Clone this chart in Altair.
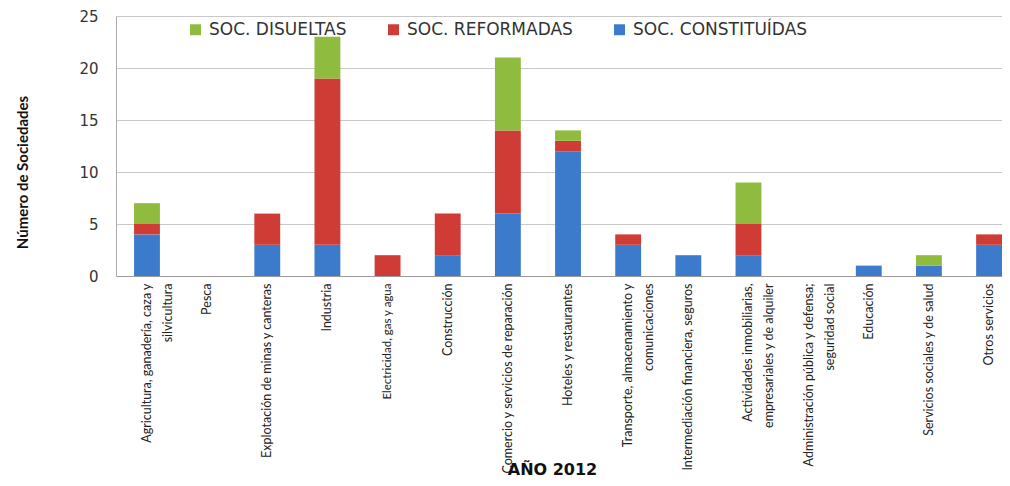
import altair as alt
import pandas as pd

categories = [
    "Agricultura, ganadería, caza y|silvicultura",
    "Pesca",
    "Explotación de minas y canteras",
    "Industria",
    "Electricidad, gas y agua",
    "Construcción",
    "Comercio y servicios de reparación",
    "Hoteles y restaurantes",
    "Transporte, almacenamiento y|comunicaciones",
    "Intermediación financiera, seguros",
    "Actividades inmobiliarias,|empresariales y de alquiler",
    "Administración pública y defensa;|seguridad social",
    "Educación",
    "Servicios sociales y de salud",
    "Otros servicios",
]

constituidas = [4, 0, 3, 3, 0, 2, 6, 12, 3, 2, 2, 0, 1, 1, 3]
reformadas = [1, 0, 3, 16, 2, 4, 8, 1, 1, 0, 3, 0, 0, 0, 1]
disueltas = [2, 0, 0, 4, 0, 0, 7, 1, 0, 0, 4, 0, 0, 1, 0]

series_names = ["SOC. DISUELTAS", "SOC. REFORMADAS", "SOC. CONSTITUÍDAS"]
series_colors = ["#8fbb3e", "#cf3b35", "#3c7bcb"]
y_ticks = [0, 5, 10, 15, 20, 25]

rows = []
for i, c in enumerate(categories):
    rows.append({"cat": c, "serie": series_names[2], "value": constituidas[i], "ord": 0})
    rows.append({"cat": c, "serie": series_names[1], "value": reformadas[i], "ord": 1})
    rows.append({"cat": c, "serie": series_names[0], "value": disueltas[i], "ord": 2})
df = pd.DataFrame(rows)

chart = alt.Chart(df).mark_bar().encode(
    x=alt.X(
        "cat:N",
        sort=categories,
        scale=alt.Scale(domain=categories, paddingInner=0.57, paddingOuter=0.15, align=1),
        axis=alt.Axis(
            title="AÑO 2012",
            labelAngle=270,
            labelExpr="split(datum.label, '|')",
            labelLineHeight=21,
            labelFont="Lato",
            labelFontSize={"condition": {"test": "indexof(datum.value, 'Electricidad') >= 0", "value": 11.5}, "value": 12.5},
            labelColor="#222222",
            labelPadding=7,
            labelLimit=0,
            ticks=False,
            domainColor="#9a9a9a",
            titleFont="DejaVu Sans",
            titleFontWeight="bold",
            titleFontSize=16,
            titleColor="#111111",
            titleX=436,
            titleY=201,
            titleBaseline="bottom",
        ),
    ),
    y=alt.Y(
        "value:Q",
        stack="zero",
        scale=alt.Scale(domain=[0, 25]),
        axis=alt.Axis(
            values=y_ticks,
            title="Número de Sociedades",
            labelFont="DejaVu Sans",
            labelFontSize=15,
            labelColor="#333333",
            labelPadding=18,
            ticks=False,
            domainColor="#aaaaaa",
            gridColor="#c8c8c8",
            titleFont="Lato",
            titleFontWeight="bold",
            titleFontSize=15,
            titleColor="#111111",
            titleX=-94,
            titleY=156,
            titleAngle=270,
            titleAlign="center",
            titleBaseline="middle",
        ),
    ),
    color=alt.Color(
        "serie:N",
        scale=alt.Scale(domain=series_names, range=series_colors),
        legend=alt.Legend(
            title=None,
            orient="none",
            legendX=71,
            legendY=5,
            direction="horizontal",
            symbolType="square",
            symbolSize=120,
            symbolStrokeWidth=0,
            labelFont="DejaVu Sans",
            labelFontSize=17,
            labelColor="#333333",
            labelOffset=5,
            labelLimit=400,
            columnPadding=38,
        ),
    ),
    order=alt.Order("ord:Q"),
).properties(
    width=886,
    height=260,
    padding={"left": 108, "top": 8, "right": 0, "bottom": 202},
    autosize="none",
).configure_view(stroke=None)

chart.save("out.html", embed_options={"renderer": "svg", "actions": False})
